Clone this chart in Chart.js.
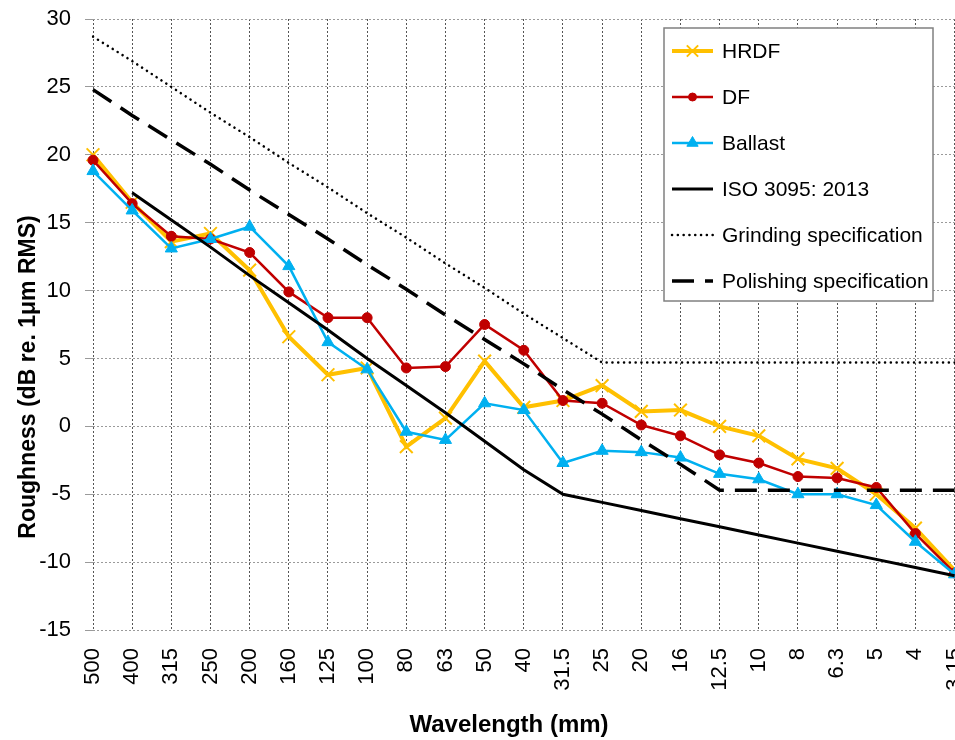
<!DOCTYPE html>
<html>
<head>
<meta charset="utf-8">
<script src="https://cdn.jsdelivr.net/npm/chart.js@4.4.0/dist/chart.umd.min.js"></script>
<style>
  html, body { margin: 0; padding: 0; background: #fff; overflow: hidden; }
  #wrap { width: 955px; height: 740px; overflow: hidden; position: relative; }
  #wrap canvas { position: absolute; left: 0; top: 0; }
</style>
</head>
<body>
<div id="wrap"><canvas id="chart" width="999" height="740"></canvas></div>
<script>
const wavelengths = ['500','400','315','250','200','160','125','100','80','63','50','40','31.5','25','20','16','12.5','10','8','6.3','5','4','3.15'];

const hrdf      = [20.0, 16.5, 13.6, 14.2, 11.5, 6.6, 3.8, 4.3, -1.5, 0.6, 4.8, 1.4, 1.9, 3.0, 1.1, 1.2, 0.0, -0.7, -2.4, -3.1, -5.0, -7.5, -10.6];
const df        = [19.6, 16.4, 14.0, 13.8, 12.8, 9.9, 8.0, 8.0, 4.3, 4.4, 7.5, 5.6, 1.9, 1.7, 0.1, -0.7, -2.1, -2.7, -3.7, -3.8, -4.5, -7.9, -10.8];
const ballast   = [18.8, 15.9, 13.1, 13.8, 14.7, 11.8, 6.2, 4.2, -0.4, -1.0, 1.7, 1.2, -2.7, -1.8, -1.9, -2.3, -3.5, -3.9, -5.0, -5.0, -5.8, -8.5, -10.9];
const iso3095   = [null, 17.2, 15.2, 13.2, 11.1, 9.1, 7.1, 5.0, 3.0, 1.0, -1.1, -3.2, -5.0, -5.6, -6.2, -6.8, -7.4, -8.0, -8.6, -9.2, -9.8, -10.4, -11.0];
const grinding  = [28.7, 26.9, 25.0, 23.1, 21.3, 19.4, 17.6, 15.7, 13.9, 12.0, 10.2, 8.3, 6.5, 4.7, 4.7, 4.7, 4.7, 4.7, 4.7, 4.7, 4.7, 4.7, 4.7];
const polishing = [24.8, 22.9, 21.1, 19.3, 17.4, 15.6, 13.8, 11.9, 10.1, 8.2, 6.4, 4.6, 2.7, 0.9, -1.0, -2.8, -4.7, -4.7, -4.7, -4.7, -4.7, -4.7, -4.7];

const FONT = "'Liberation Sans', Arial, sans-serif";

// legend box + axis titles, drawn on top of the plot
const overlay = {
  id: 'overlay',
  afterDraw(chart) {
    const ctx = chart.ctx;
    ctx.save();

    // legend
    ctx.fillStyle = '#fff';
    ctx.fillRect(664, 28, 269, 273);
    ctx.strokeStyle = '#808080';
    ctx.lineWidth = 1.5;
    ctx.strokeRect(664, 28, 269, 273);

    chart.data.datasets.forEach((ds, i) => {
      const y = 51 + i * 46;
      ctx.save();
      ctx.strokeStyle = ds.borderColor;
      ctx.lineWidth = ds.borderWidth;
      ctx.lineCap = ds.borderCapStyle || 'butt';
      ctx.setLineDash(ds.borderDash || []);
      ctx.beginPath();
      ctx.moveTo(672, y);
      ctx.lineTo(713, y);
      ctx.stroke();
      ctx.setLineDash([]);
      if (ds.pointRadius > 0) {
        ctx.fillStyle = ds.pointBackgroundColor;
        ctx.strokeStyle = ds.pointBorderColor;
        ctx.lineWidth = ds.pointBorderWidth;
        Chart.helpers.drawPoint(ctx, {
          pointStyle: ds.pointStyle,
          radius: ds.legendRadius,
          borderWidth: ds.pointBorderWidth,
          rotation: 0
        }, 692.5, y);
      }
      ctx.restore();
      ctx.fillStyle = '#000';
      ctx.font = '21px ' + FONT;
      ctx.textAlign = 'left';
      ctx.textBaseline = 'middle';
      ctx.fillText(ds.label, 722, y + 1);
    });

    // axis titles
    ctx.fillStyle = '#000';
    ctx.font = 'bold 24px ' + FONT;
    ctx.textAlign = 'center';
    ctx.textBaseline = 'middle';
    ctx.fillText('Wavelength (mm)', 509, 725);

    ctx.translate(29, 377);
    ctx.rotate(-Math.PI / 2);
    ctx.font = 'bold 23px ' + FONT;
    ctx.fillText('Roughness (dB re. 1\u03bcm RMS)', 0, 0);
    ctx.restore();
  }
};

new Chart(document.getElementById('chart'), {
  type: 'line',
  data: {
    labels: wavelengths,
    datasets: [
      {
        label: 'HRDF', data: hrdf, order: 6,
        borderColor: '#FFC000', borderWidth: 4,
        pointStyle: 'crossRot', pointRadius: 9, legendRadius: 8,
        pointBorderColor: '#FFC000', pointBackgroundColor: '#FFC000', pointBorderWidth: 2
      },
      {
        label: 'DF', data: df, order: 5,
        borderColor: '#C00000', borderWidth: 2.5,
        pointStyle: 'circle', pointRadius: 5, legendRadius: 4,
        pointBorderColor: '#C00000', pointBackgroundColor: '#C00000', pointBorderWidth: 1
      },
      {
        label: 'Ballast', data: ballast, order: 4,
        borderColor: '#00B0F0', borderWidth: 2.5,
        pointStyle: 'triangle', pointRadius: 7, legendRadius: 6.5,
        pointBorderColor: '#00B0F0', pointBackgroundColor: '#00B0F0', pointBorderWidth: 1
      },
      {
        label: 'ISO 3095: 2013', data: iso3095, order: 3,
        borderColor: '#000', borderWidth: 3, pointRadius: 0
      },
      {
        label: 'Grinding specification', data: grinding, order: 2,
        borderColor: '#000', borderWidth: 2.5, borderDash: [0.1, 5.7], borderCapStyle: 'round',
        pointRadius: 0
      },
      {
        label: 'Polishing specification', data: polishing, order: 1,
        borderColor: '#000', borderWidth: 3.5, borderDash: [22, 11],
        pointRadius: 0
      }
    ]
  },
  options: {
    responsive: false,
    animation: false,
    spanGaps: false,
    layout: { padding: { top: 19, left: 0, right: 0, bottom: 0 } },
    plugins: {
      legend: { display: false },
      tooltip: { enabled: false }
    },
    elements: { line: { tension: 0 } },
    scales: {
      x: {
        type: 'category',
        offset: false,
        afterFit: (scale) => { scale.height = 110; },
        grid: { color: '#555', lineWidth: 1, drawTicks: false },
        border: { display: false, dash: [2, 2] },
        ticks: {
          color: '#000', font: { family: FONT, size: 22 },
          maxRotation: 90, minRotation: 90, padding: 18, autoSkip: false
        }
      },
      y: {
        min: -15, max: 30,
        afterFit: (scale) => {
          scale.width = 93;
          scale.paddingTop = 0;
          scale.paddingBottom = 0;
        },
        grid: { color: '#9a9a9a', lineWidth: 1, tickLength: 8 },
        border: { display: false, dash: [2, 2] },
        ticks: {
          stepSize: 5, color: '#000', font: { family: FONT, size: 22 }, padding: 14
        }
      }
    }
  },
  plugins: [overlay]
});
</script>
</body>
</html>
